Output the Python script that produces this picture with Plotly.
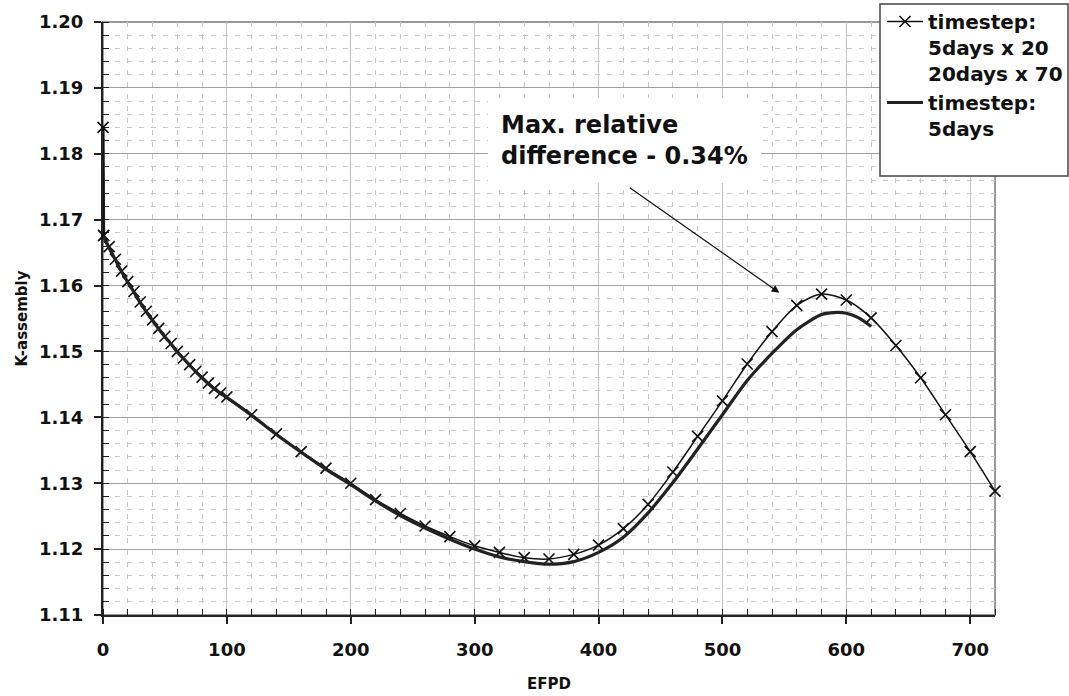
import plotly.graph_objects as go

# Series 1: timestep 5days x 20, 20days x 70 (markers)
efpd_coarse = [0, 0.5, 5, 10, 15, 20, 25, 30, 35, 40, 45, 50, 55, 60, 65, 70, 75, 80, 85, 90, 95, 100,
               120, 140, 160, 180, 200, 220, 240, 260, 280, 300, 320, 340, 360, 380, 400, 420, 440,
               460, 480, 500, 520, 540, 560, 580, 600, 620, 640, 660, 680, 700, 720]
k_coarse = [1.1840, 1.1676, 1.1659, 1.1640, 1.1622, 1.1606, 1.1591, 1.1575, 1.1561, 1.1548, 1.1535,
            1.1523, 1.1512, 1.1500, 1.1490, 1.1480, 1.1470, 1.1461, 1.1452, 1.1444, 1.1437, 1.1431,
            1.1404, 1.1375, 1.1348, 1.1323, 1.1300, 1.1275, 1.1254, 1.1235, 1.1219, 1.1205, 1.1195,
            1.1187, 1.1185, 1.1192, 1.1206, 1.1231, 1.1268, 1.1317, 1.1371, 1.1425, 1.1481, 1.1530,
            1.1570, 1.1587, 1.1578, 1.1551, 1.1509, 1.1460, 1.1404, 1.1348, 1.1288]

# Series 2: timestep 5days (thick line)
efpd_fine = [0, 0.5, 5, 10, 15, 20, 25, 30, 35, 40, 45, 50, 55, 60, 65, 70, 75, 80, 85, 90, 95, 100,
             120, 140, 160, 180, 200, 220, 240, 260, 280, 300, 320, 340, 360, 380, 400, 420, 440,
             460, 480, 500, 520, 540, 560, 580, 590, 600, 610, 620]
k_fine = [1.1840, 1.1674, 1.1657, 1.1639, 1.1621, 1.1605, 1.1590, 1.1574, 1.1560, 1.1547, 1.1534,
          1.1522, 1.1511, 1.1499, 1.1489, 1.1479, 1.1469, 1.1460, 1.1451, 1.1443, 1.1436, 1.1430,
          1.1403, 1.1374, 1.1347, 1.1321, 1.1298, 1.1273, 1.1251, 1.1232, 1.1215, 1.1200, 1.1188,
          1.1181, 1.1177, 1.1181, 1.1195, 1.1218, 1.1255, 1.1301, 1.1352, 1.1404, 1.1456, 1.1497,
          1.1533, 1.1556, 1.1559, 1.1558, 1.1551, 1.1538]

name_coarse = "timestep:<br>5days x 20<br>20days x 70"
name_fine = "timestep:<br>5days"
x_title = "EFPD"
y_title = "K-assembly"
note_text = "Max. relative<br>difference - 0.34%"

FONT = "DejaVu Sans"
W, H = 1069, 696
PL, PR, PT, PB = 103, 995, 22, 615   # plot area in pixels
PW, PH = PR - PL, PB - PT


def px(xp):
    return (xp - PL) / PW


def py(yp):
    return 1 - (yp - PT) / PH


thin = dict(color="#111111", width=1.5)
thick = dict(color="#222222", width=3.2)
xmark = dict(symbol="x-thin", size=11, line=dict(color="#111111", width=1.6), color="#111111")

fig = go.Figure()
# initial drop (start-up point) drawn straight, rest smoothed
fig.add_trace(go.Scatter(x=efpd_fine[:2], y=k_fine[:2], mode="lines", line=thick,
                         legendgroup="g2", showlegend=False, hoverinfo="skip"))
fig.add_trace(go.Scatter(x=efpd_coarse[:2], y=k_coarse[:2], mode="lines+markers", line=thin,
                         marker=xmark, cliponaxis=False, legendgroup="g1",
                         showlegend=False, hoverinfo="skip"))
fig.add_trace(go.Scatter(
    x=efpd_coarse[1:], y=k_coarse[1:], name=name_coarse, mode="lines+markers",
    line=dict(thin, shape="spline", smoothing=0.8), marker=xmark, cliponaxis=False,
    legendgroup="g1",
))
fig.add_trace(go.Scatter(
    x=efpd_fine[1:], y=k_fine[1:], name=name_fine, mode="lines",
    line=dict(thick, shape="spline", smoothing=0.8), legendgroup="g2",
))

tickfont = dict(family=FONT, size=18, color="#111111", weight="bold")
titlefont = dict(family=FONT, size=15, color="#111111", weight="bold")

fig.update_layout(
    width=W, height=H,
    margin=dict(l=PL, r=W - PR, t=PT, b=H - PB, autoexpand=False),
    paper_bgcolor="white", plot_bgcolor="white",
    font=dict(family=FONT, color="#111111"),
    showlegend=True,
    legend=dict(
        x=px(882), y=py(2), xanchor="left", yanchor="top",
        bgcolor="rgba(0,0,0,0)", borderwidth=0,
        font=dict(family=FONT, size=20, color="#111111", weight="bold"),
        valign="top", tracegroupgap=4, itemwidth=36, traceorder="normal",
        groupclick="toggleitem",
    ),
    xaxis=dict(
        range=[0, 720], dtick=100, tick0=0, layer="below traces",
        showline=True, linecolor="#222222", linewidth=2,
        ticks="outside", ticklen=7, tickwidth=1.5, tickcolor="#222222",
        tickfont=tickfont, ticklabelstandoff=10,
        showgrid=True, gridcolor="#c4c4c4", gridwidth=1,
        zeroline=False,
        minor=dict(dtick=20, ticks="inside", ticklen=6, tickwidth=1.2, tickcolor="#222222",
                   showgrid=True, gridcolor="#c8c8c8", gridwidth=1, griddash="5px,7px"),
        title=dict(text=x_title, font=titlefont, standoff=20),
    ),
    yaxis=dict(
        range=[1.11, 1.20], dtick=0.01, tick0=1.11, tickformat=".2f", layer="below traces",
        showline=True, linecolor="#222222", linewidth=2,
        ticks="outside", ticklen=7, tickwidth=1.5, tickcolor="#222222",
        tickfont=tickfont, ticklabelstandoff=7,
        showgrid=True, gridcolor="#a0a0a0", gridwidth=1,
        zeroline=False,
        minor=dict(dtick=0.002, ticks="inside", ticklen=6, tickwidth=1.2, tickcolor="#222222",
                   showgrid=True, gridcolor="#c8c8c8", gridwidth=1, griddash="5px,7px"),
        title=dict(text=y_title, font=titlefont, standoff=8),
    ),
    shapes=[
        dict(type="rect", xref="paper", yref="paper", x0=0, x1=1, y0=0, y1=1,
             line=dict(color="#999999", width=2), layer="below"),
        # legend frame
        dict(type="rect", xref="paper", yref="paper", x0=px(880), x1=px(1068), y0=py(176), y1=py(4),
             line=dict(color="#444444", width=1.5), fillcolor="white", layer="above"),
    ],
    annotations=[
        dict(x=546, y=1.1589, xref="x", yref="y", ax=424, ay=1.1750, axref="x", ayref="y",
             text="", showarrow=True, arrowhead=2, arrowsize=1.3, arrowwidth=1.2,
             arrowcolor="#111111", standoff=0),
        dict(x=px(624), y=py(140), xref="paper", yref="paper", xanchor="center", yanchor="middle",
             text=note_text, showarrow=False, align="left",
             font=dict(family=FONT, size=24, color="#111111", weight="bold"),
             bgcolor="white", borderpad=13, borderwidth=0),
    ],
)

fig.write_html("out.html")
